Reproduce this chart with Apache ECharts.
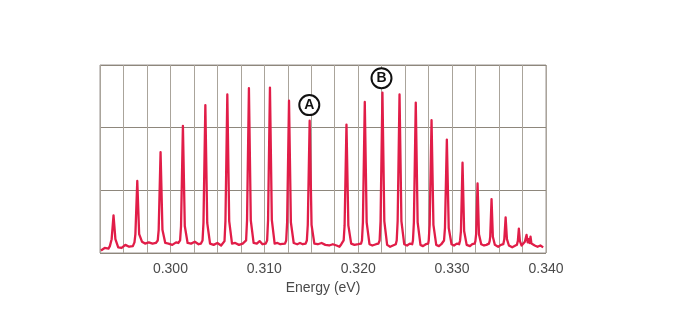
<!DOCTYPE html>
<html>
<head>
<meta charset="utf-8">
<script src="https://cdn.jsdelivr.net/npm/echarts@6/dist/echarts.min.js"></script>
<style>html,body{margin:0;padding:0;background:#fff;}#c{width:700px;height:325px;}</style>
</head>
<body>
<div id="c"></div>
<script>
// Spectrum points: [energy (eV), intensity (arb.)]
const spectrum = [
[0.2926,0.04],[0.2930,0.08],[0.2934,0.07],[0.29355,0.11],
[0.29374,0.22],[0.29394,0.60],[0.29414,0.22],[0.29444,0.09],
[0.2948,0.08],[0.2952,0.13],[0.2956,0.10],[0.2960,0.11],
[0.29617,0.17],[0.29627,0.30],[0.29647,1.15],[0.29667,0.30],[0.29697,0.18],
[0.2973,0.15],[0.2977,0.17],[0.2981,0.15],[0.29845,0.16],
[0.29865,0.20],[0.29875,0.37],[0.29895,1.61],[0.29915,0.37],[0.29945,0.16],
[0.2998,0.15],[0.3002,0.13],[0.3006,0.17],[0.30085,0.16],
[0.30103,0.20],[0.30113,0.43],[0.30133,2.03],[0.30153,0.43],[0.30183,0.16],
[0.3022,0.15],[0.3026,0.18],[0.3030,0.14],[0.30325,0.15],
[0.30342,0.20],[0.30352,0.48],[0.30372,2.36],[0.30392,0.48],[0.30422,0.15],
[0.3046,0.13],[0.3050,0.16],[0.3054,0.12],[0.30560,0.14],
[0.30576,0.19],[0.30586,0.51],[0.30606,2.53],[0.30626,0.51],[0.30656,0.15],
[0.3069,0.16],[0.3073,0.13],[0.3077,0.15],[0.30790,0.16],
[0.30806,0.20],[0.30816,0.52],[0.30836,2.63],[0.30856,0.52],[0.30886,0.16],
[0.3092,0.15],[0.3095,0.19],[0.3098,0.14],[0.31015,0.15],
[0.31030,0.20],[0.31040,0.53],[0.31060,2.64],[0.31080,0.53],[0.31110,0.15],
[0.3114,0.16],[0.3117,0.14],[0.31220,0.15],
[0.31233,0.20],[0.31243,0.49],[0.31263,2.43],[0.31283,0.49],[0.31313,0.16],
[0.3135,0.14],[0.3138,0.16],[0.3141,0.14],[0.31440,0.15],
[0.31453,0.20],[0.31463,0.45],[0.31483,2.11],[0.31503,0.45],[0.31533,0.15],
[0.3157,0.14],[0.3161,0.16],[0.3165,0.13],[0.3169,0.12],[0.3173,0.14],[0.3177,0.12],[0.3180,0.10],[0.3182,0.14],
[0.31845,0.20],[0.31855,0.44],[0.31875,2.05],[0.31895,0.44],[0.31925,0.15],
[0.3196,0.13],[0.3200,0.14],[0.32030,0.15],
[0.32040,0.20],[0.32050,0.49],[0.32070,2.41],[0.32090,0.49],[0.32120,0.14],
[0.3215,0.12],[0.3219,0.14],[0.32215,0.15],
[0.32228,0.20],[0.32238,0.51],[0.32258,2.56],[0.32278,0.51],[0.32308,0.13],
[0.3234,0.10],[0.3237,0.12],[0.32400,0.14],
[0.32410,0.20],[0.32420,0.51],[0.32440,2.53],[0.32460,0.51],[0.32490,0.14],
[0.3252,0.12],[0.3255,0.15],[0.32575,0.14],
[0.32583,0.20],[0.32593,0.49],[0.32613,2.40],[0.32633,0.49],[0.32663,0.13],
[0.3269,0.11],[0.3272,0.14],[0.32745,0.15],
[0.32751,0.20],[0.32761,0.45],[0.32781,2.12],[0.32801,0.45],[0.32831,0.13],
[0.3286,0.11],[0.32885,0.14],[0.32905,0.15],
[0.32914,0.20],[0.32924,0.40],[0.32944,1.81],[0.32964,0.40],[0.32994,0.14],
[0.3302,0.12],[0.3305,0.15],[0.33075,0.14],
[0.33085,0.20],[0.33094,0.35],[0.33111,1.44],[0.33128,0.35],[0.33155,0.13],
[0.3319,0.11],[0.33215,0.14],[0.33240,0.15],
[0.33248,0.19],[0.33256,0.30],[0.33271,1.11],[0.33286,0.30],[0.33310,0.14],
[0.3334,0.12],[0.33365,0.13],[0.33392,0.15],
[0.33400,0.19],[0.33406,0.26],[0.33420,0.86],[0.33434,0.26],[0.33455,0.13],
[0.3349,0.10],[0.3352,0.13],[0.33545,0.14],
[0.33556,0.22],[0.33570,0.57],[0.33584,0.22],[0.33605,0.12],
[0.3364,0.09],[0.33665,0.11],[0.33690,0.13],
[0.33700,0.19],[0.33711,0.39],[0.33722,0.19],[0.33740,0.12],
[0.33760,0.15],[0.33775,0.18],
[0.33793,0.29],[0.33805,0.17],[0.33815,0.22],[0.33825,0.16],[0.33835,0.26],[0.33845,0.15],
[0.3386,0.17],[0.3388,0.12],[0.3391,0.10],[0.3394,0.12],[0.3397,0.09]
];
// Annotation labels placed above two lines
const annotNames = ['A', 'B'];
const annotEnergy = [0.31479, 0.32248];
const annotIntensity = [2.36, 2.79];
// Axis settings
const xMin = 0.2925, xMax = 0.340, xStep = 0.0025;
const xLabelStep = 0.010;
const xTitle = 'Energy (eV)';

const chart = echarts.init(document.getElementById('c'), null, {renderer: 'canvas'});
chart.setOption({
  animation: false,
  backgroundColor: '#fff',
  grid: {left: 100, right: 154, top: 65, bottom: 72, show: true, borderColor: '#9a9590', borderWidth: 1, backgroundColor: 'transparent'},
  xAxis: {
    type: 'value', min: xMin, max: xMax, interval: xStep,
    name: xTitle, nameLocation: 'middle', nameGap: 25,
    nameTextStyle: {fontFamily: 'Liberation Sans', fontSize: 14, color: '#4a4a4a'},
    axisLine: {show: false}, axisTick: {show: false},
    axisLabel: {
      fontFamily: 'Liberation Sans', fontSize: 14, color: '#4a4a4a', margin: 9,
      showMinLabel: true, showMaxLabel: true,
      formatter: function (v) {
        const k = Math.round(v / xStep);
        const per = Math.round(xLabelStep / xStep);
        return (k % per === 0) ? v.toFixed(3) : '';
      }
    },
    splitLine: {show: true, lineStyle: {color: '#aaa49b', width: 1}}
  },
  yAxis: {
    type: 'value', min: 0, max: 3, interval: 1,
    axisLine: {show: false}, axisTick: {show: false}, axisLabel: {show: false},
    splitLine: {show: true, lineStyle: {color: '#8e877c', width: 1}}
  },
  series: [{
    type: 'line', data: spectrum, showSymbol: false, smooth: false,
    lineStyle: {color: '#e11d48', width: 2.3, join: 'round'},
    itemStyle: {color: '#e11d48'},
    z: 3,
    markPoint: {
      symbol: 'circle', symbolSize: 20,
      itemStyle: {color: '#fff', borderColor: '#111', borderWidth: 2},
      label: {show: true, position: 'inside', color: '#111', fontWeight: 'bold', fontSize: 14, fontFamily: 'Liberation Sans'},
      data: annotNames.map(function (n, i) { return {name: n, coord: [annotEnergy[i], annotIntensity[i]], value: n}; })
    }
  }]
});
</script>
</body>
</html>
